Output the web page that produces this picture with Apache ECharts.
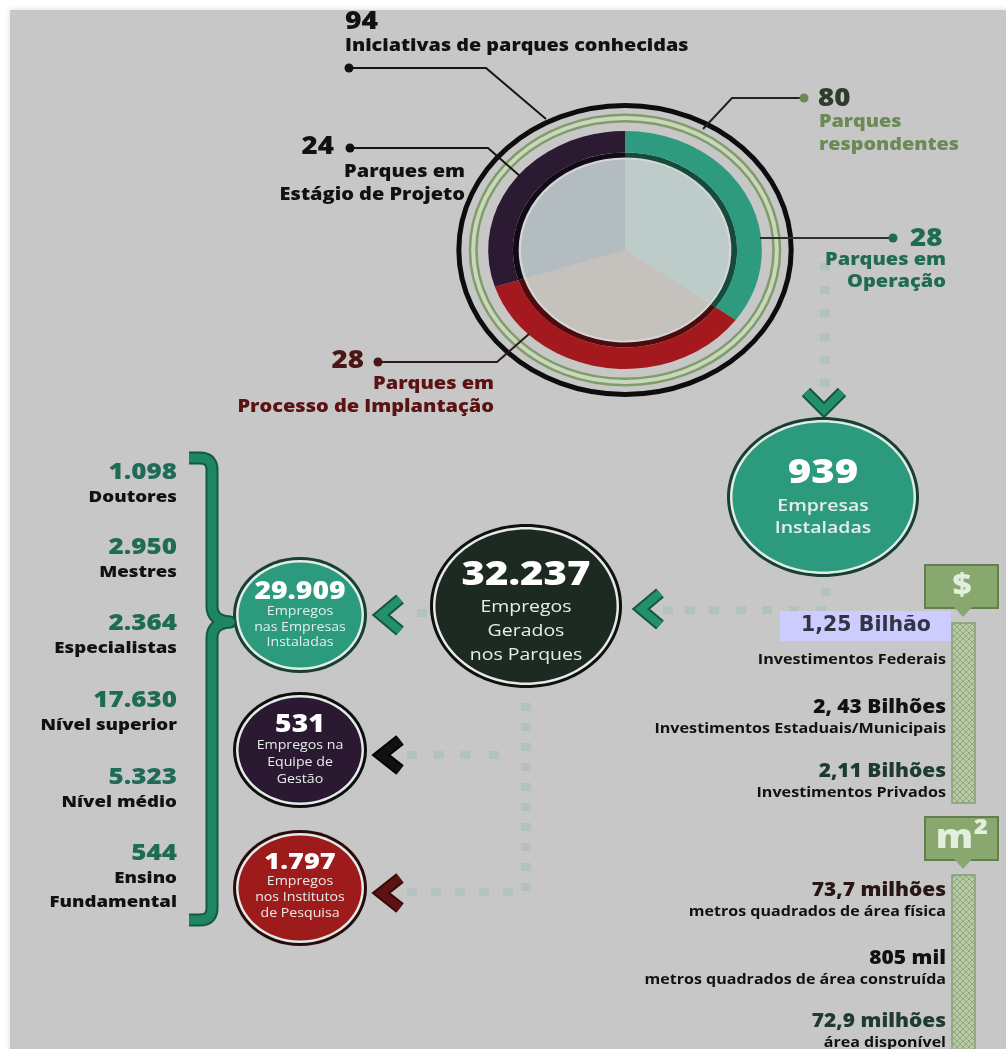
<!DOCTYPE html>
<html><head><meta charset="utf-8">
<script src="https://cdn.jsdelivr.net/npm/echarts@6/dist/echarts.min.js"></script>
<style>html,body{margin:0;padding:0;background:#fff}#c{width:1006px;height:1049px}</style>
</head><body><div id="c"></div>
<script>
// ---------------- DATA ----------------
const knownInitiatives = 94;
const knownInitiativesLabel = 'Iniciativas de parques conhecidas';
const respondentParks = 80;
const respondentLabel = 'Parques\nrespondentes';
const donutCategories = ['Parques em\nOperação', 'Parques em\nProcesso de Implantação', 'Parques em\nEstágio de Projeto'];
const donutValues = [28, 28, 24];
const bubbleCategories = ['Empresas\nInstaladas', 'Empregos\nGerados\nnos Parques', 'Empregos\nnas Empresas\nInstaladas', 'Empregos na\nEquipe de\nGestão', 'Empregos\nnos Institutos\nde Pesquisa'];
const bubbleValues = [939, 32237, 29909, 531, 1797];
const educationCategories = ['Doutores', 'Mestres', 'Especialistas', 'Nível superior', 'Nível médio', 'Ensino\nFundamental'];
const educationValues = [1098, 2950, 2364, 17630, 5323, 544];
const investmentCategories = ['Investimentos Federais', 'Investimentos Estaduais/Municipais', 'Investimentos Privados'];
const investmentValues = ['1,25 Bilhão', '2, 43 Bilhões', '2,11 Bilhões'];
const areaCategories = ['metros quadrados de área física', 'metros quadrados de área construída', 'área disponível'];
const areaValues = ['73,7 milhões', '805 mil', '72,9 milhões'];

// ---------------- LAYOUT / STYLE ----------------
const FONT = '"Open Sans", "Noto Sans", sans-serif';
const TX = 1.13;   // horizontal stretch of the original artwork
const BX = 1.18;   // stretch of text inside the bubbles
const W = '800';
const fnt = (w, s, fam) => w + ' ' + s + 'px ' + (fam || FONT);
const fmt = n => String(n).replace(/\B(?=(\d{3})+(?!\d))/g, '.');
const D = { cx: 625, cy: 250, sx: 1.15 };
const donutLayout = [
  { numColor: '#1f6b55', textColor: '#1f6b55', dotColor: '#1f6b55', lineColor: '#26332e', ring: '#2e9b7f', edge: '#164a3b', pie: '#bdcbc9',
    num: [910, 239, 'left'], lines: [946, 260, 22], dot: [893, 238], path: [[893, 238], [760, 238]] },
  { numColor: '#4a1616', textColor: '#5a1212', dotColor: '#4a1616', lineColor: '#2a1a1a', ring: '#a3191d', edge: '#4d0b0d', pie: '#c5c1bc',
    num: [364, 361, 'right'], lines: [494, 384, 23], dot: [378, 362], path: [[378, 362], [497, 362], [529, 334]] },
  { numColor: '#111111', textColor: '#111111', dotColor: '#111111', lineColor: '#151515', ring: '#2c1a33', edge: '#130a17', pie: '#b3bcc1',
    num: [334, 147, 'right'], lines: [465, 172, 23], dot: [350, 148], path: [[350, 148], [488, 148], [521, 177]] }
];
const bubbleLayout = [
  { cx: 823, cy: 497, rx: 96, ry: 80, fill: '#2c9b7d', border: '#173f32', numY: 473, numSize: 34, lineY: 506, lineGap: 22, lineSize: 16.5, lineWeight: '600' },
  { cx: 526, cy: 606, rx: 96, ry: 82, fill: '#1c2a22', border: '#101010', numY: 575, numSize: 34, lineY: 607, lineGap: 24, lineSize: 16.5, lineWeight: 'normal' },
  { cx: 300, cy: 615, rx: 67, ry: 58, fill: '#2c9b7d', border: '#173f32', numY: 592, numSize: 24, lineY: 612, lineGap: 15.5, lineSize: 12, lineWeight: 'normal' },
  { cx: 300, cy: 750, rx: 67, ry: 58, fill: '#2b1932', border: '#0e0e0e', numY: 725, numSize: 24, lineY: 746, lineGap: 17, lineSize: 12, lineWeight: 'normal' },
  { cx: 300, cy: 888, rx: 67, ry: 58, fill: '#9e1b1b', border: '#2a0a0a', numY: 862, numSize: 23, lineY: 882, lineGap: 16, lineSize: 12, lineWeight: 'normal' }
];
const eduLayout = { x: 177, ys: [472, 547, 623, 700, 777, 853], gap: 25 };
const investLayout = { x: 946, ys: [626, 708, 772], colors: ['#333344', '#111111', '#1f3a30'] };
const areaLayout = { x: 946, ys: [891, 959, 1022], colors: ['#2a1515', '#111111', '#1f3a30'] };

const G = [];
function txt(x, y, text, font, fill, align, sx) {
  G.push({ type: 'text', x: x, y: y, z: 10, scaleX: sx === undefined ? TX : sx,
    style: { text: text, font: font, fill: fill, textAlign: align || 'left', textVerticalAlign: 'middle', align: align || 'left', verticalAlign: 'middle' } });
}
function multi(x, y, gap, text, font, fill, align) {
  text.split('\n').forEach((t, k) => txt(x, y + k * gap, t, font, fill, align));
}
function poly(points, stroke, lw, z) {
  G.push({ type: 'polyline', z: z || 5, shape: { points: points }, style: { stroke: stroke, lineWidth: lw, fill: null, lineJoin: 'miter', lineCap: 'butt' } });
}
function dot(x, y, color) {
  G.push({ type: 'circle', z: 6, shape: { cx: x, cy: y, r: 4.5 }, style: { fill: color } });
}
function sq(x, y) {
  G.push({ type: 'rect', z: 3, shape: { x: x - 5, y: y - 4, width: 10, height: 8 }, style: { fill: '#b3c1bf' } });
}
function chevron(points, color, dark) {
  poly(points, dark, 12, 4);
  poly(points, color, 8, 5);
}

// panel background
G.push({ type: 'rect', z: -10, shape: { x: 10, y: 10, width: 1000, height: 1045 }, style: { fill: '#c7c7c7', shadowBlur: 6, shadowColor: 'rgba(0,0,0,0.15)' } });

// donut rings (outer decoration)
G.push({ type: 'ellipse', z: 1, shape: { cx: D.cx, cy: D.cy, rx: 144.5 * D.sx, ry: 144.5 }, style: { fill: null, stroke: '#0d0d0d', lineWidth: 5 } });
G.push({ type: 'ellipse', z: 1, shape: { cx: D.cx, cy: D.cy, rx: 132 * D.sx, ry: 132 }, style: { fill: null, stroke: '#7f9c6a', lineWidth: 9 } });
G.push({ type: 'ellipse', z: 1, shape: { cx: D.cx, cy: D.cy, rx: 132 * D.sx, ry: 132 }, style: { fill: null, stroke: '#c9d8bd', lineWidth: 4 } });

// top labels
txt(345, 22, String(knownInitiatives), fnt(W, 25), '#111', 'left');
txt(345, 46, knownInitiativesLabel, fnt(W, 17.5), '#111', 'left');
poly([[349, 68], [486, 68], [546, 119]], '#151515', 2, 6);
dot(349, 68, '#111');
txt(818, 99, String(respondentParks), fnt(W, 24.5), '#2f3b2c', 'left');
multi(819, 122, 23, respondentLabel, fnt(W, 17.5), '#6a8a56', 'left');
poly([[800, 98], [732, 98], [703, 129]], '#222', 2, 6);
dot(804, 98, '#6a8a56');

donutLayout.forEach((L, i) => {
  txt(L.num[0], L.num[1], String(donutValues[i]), fnt(W, 24.5), L.numColor, L.num[2]);
  multi(L.lines[0], L.lines[1], L.lines[2], donutCategories[i], fnt(W, 17.7), L.textColor, 'right');
  poly(L.path, L.lineColor, 2, 6);
  dot(L.dot[0], L.dot[1], L.dotColor);
});

// dotted connectors
[267, 290, 313, 337, 360, 383].forEach(y => sq(825, y));
chevron([[806, 392], [824, 410], [842, 392]], '#21906b', '#145640');
sq(826, 592);
[690, 714, 741, 767, 794, 821].forEach(x => sq(x, 610));
sq(668, 610);
chevron([[660, 593], [641, 609], [660, 625]], '#21906b', '#145640');
sq(422, 613);
chevron([[400, 599], [381, 615], [400, 631]], '#21906b', '#145640');
[707, 727, 747, 767, 787, 807, 827, 847, 867, 887].forEach(y => sq(526, y));
[412, 439, 465, 494].forEach(x => sq(x, 755));
[412, 436, 460, 484, 508].forEach(x => sq(x, 892));
chevron([[400, 740], [381, 755], [400, 770]], '#111111', '#000000');
chevron([[400, 878], [381, 893], [400, 908]], '#5e1212', '#3a0808');

// brace
(function () {
  const pts = [];
  function q(p0, c, p1, n) { for (let t = 0; t <= n; t++) { const u = t / n; pts.push([(1 - u) * (1 - u) * p0[0] + 2 * (1 - u) * u * c[0] + u * u * p1[0], (1 - u) * (1 - u) * p0[1] + 2 * (1 - u) * u * c[1] + u * u * p1[1]]); } }
  pts.push([189, 458]);
  q([200, 458], [212, 458], [212, 470], 8);
  q([212, 606], [212, 621], [230, 622], 8);
  q([230, 622], [212, 623], [212, 638], 8);
  q([212, 908], [212, 920], [200, 920], 8);
  pts.push([189, 920]);
  G.push({ type: 'polyline', z: 4, shape: { points: pts }, style: { stroke: '#0f5a40', lineWidth: 13, fill: null, lineJoin: 'round' } });
  G.push({ type: 'polyline', z: 5, shape: { points: pts }, style: { stroke: '#1e8663', lineWidth: 9, fill: null, lineJoin: 'round' } });
})();

// education list
educationCategories.forEach((c, i) => {
  const y = eduLayout.ys[i];
  txt(eduLayout.x, y, fmt(educationValues[i]), fnt(W, 23), '#1f6b55', 'right');
  multi(eduLayout.x, y + eduLayout.gap, 24.5, c, fnt(W, 16.5), '#111', 'right');
});

// hatch pattern
const pc = document.createElement('canvas'); pc.width = 6; pc.height = 6;
const px = pc.getContext('2d');
px.fillStyle = '#b8c9a9'; px.fillRect(0, 0, 6, 6);
px.strokeStyle = '#90a87c'; px.lineWidth = 1;
px.beginPath(); px.moveTo(0, 0); px.lineTo(6, 6); px.moveTo(6, 0); px.lineTo(0, 6); px.stroke();
const hatch = { image: pc, repeat: 'repeat' };

function iconBox(y, label, size) {
  G.push({ type: 'rect', z: 3, shape: { x: 925, y: y, width: 73, height: 43 }, style: { fill: '#88a870', stroke: '#627f50', lineWidth: 2 } });
  G.push({ type: 'polygon', z: 3, shape: { points: [[954, y + 42], [972, y + 42], [963, y + 52]] }, style: { fill: '#88a870' } });
  txt(962, y + 21, label, fnt(W, size), '#e4eedc', 'center', 1.1);
}
iconBox(565, '$', 30);
G.push({ type: 'rect', z: 3, shape: { x: 952, y: 623, width: 23, height: 180 }, style: { fill: hatch, stroke: '#86a070', lineWidth: 1.5 } });
iconBox(817, 'm²', 34);
G.push({ type: 'rect', z: 3, shape: { x: 952, y: 875, width: 23, height: 200 }, style: { fill: hatch, stroke: '#86a070', lineWidth: 1.5 } });

// investments
G.push({ type: 'rect', z: 8, shape: { x: 780, y: 611, width: 171, height: 30 }, style: { fill: '#ccccff' } });
investmentCategories.forEach((c, i) => {
  const y = investLayout.ys[i];
  if (i === 0) txt(866, y, investmentValues[i], fnt('bold', 20.5, '"DejaVu Sans", sans-serif'), investLayout.colors[i], 'center', 1);
  else txt(investLayout.x, y, investmentValues[i], fnt(W, 18.5), investLayout.colors[i], 'right');
  txt(investLayout.x, y + (i === 0 ? 34 : 21), c, fnt('bold', 14.3), '#111', 'right');
});
areaCategories.forEach((c, i) => {
  const y = areaLayout.ys[i];
  txt(areaLayout.x, y, areaValues[i], fnt(W, 18.5), areaLayout.colors[i], 'right');
  txt(areaLayout.x, y + 21, c, fnt('bold', 14.2), '#111', 'right');
});

// ---------------- CHART ----------------
const total = donutValues.reduce((a, b) => a + b, 0);
const chart = echarts.init(document.getElementById('c'));
chart.setOption({
  animation: false,
  backgroundColor: '#ffffff',
  graphic: { elements: G },
  series: [
    {
      type: 'custom', coordinateSystem: 'none', z: 2,
      data: donutValues,
      renderItem: function (params, api) {
        const i = params.dataIndex;
        let cum = 0;
        for (let k = 0; k < i; k++) cum += donutValues[k];
        const a0 = -Math.PI / 2 + cum / total * Math.PI * 2;
        const a1 = a0 + api.value(0) / total * Math.PI * 2;
        const L = donutLayout[i];
        const sec = (r0, r, fill) => ({ type: 'sector', shape: { cx: 0, cy: 0, r0: r0, r: r, startAngle: a0, endAngle: a1, clockwise: true }, style: { fill: fill } });
        return {
          type: 'group', x: D.cx, y: D.cy, scaleX: D.sx,
          children: [sec(0, 90.5, L.pie), sec(90.5, 92.5, '#d3d7d7'), sec(92.5, 97.5, L.edge), sec(97.5, 119, L.ring)]
        };
      }
    },
    {
      type: 'custom', coordinateSystem: 'none', z: 2,
      data: bubbleValues,
      renderItem: function (params, api) {
        const i = params.dataIndex;
        const L = bubbleLayout[i];
        const tstyle = (text, font, fill) => ({ text: text, font: font, fill: fill, textAlign: 'center', textVerticalAlign: 'middle', align: 'center', verticalAlign: 'middle' });
        const ch = [
          { type: 'ellipse', shape: { cx: L.cx, cy: L.cy, rx: L.rx, ry: L.ry }, style: { fill: L.border } },
          { type: 'ellipse', shape: { cx: L.cx, cy: L.cy, rx: L.rx - 3, ry: L.ry - 3 }, style: { fill: '#e2ebe7' } },
          { type: 'ellipse', shape: { cx: L.cx, cy: L.cy, rx: L.rx - 5.5, ry: L.ry - 5.5 }, style: { fill: L.fill } },
          { type: 'text', x: L.cx, y: L.numY, scaleX: BX, style: tstyle(fmt(api.value(0)), fnt(W, L.numSize), '#ffffff') }
        ];
        bubbleCategories[i].split('\n').forEach((t, k) => {
          ch.push({ type: 'text', x: L.cx, y: L.lineY + k * L.lineGap, scaleX: BX, style: tstyle(t, fnt(L.lineWeight, L.lineSize), '#e6eeea') });
        });
        return { type: 'group', children: ch };
      }
    }
  ]
});
</script></body></html>
